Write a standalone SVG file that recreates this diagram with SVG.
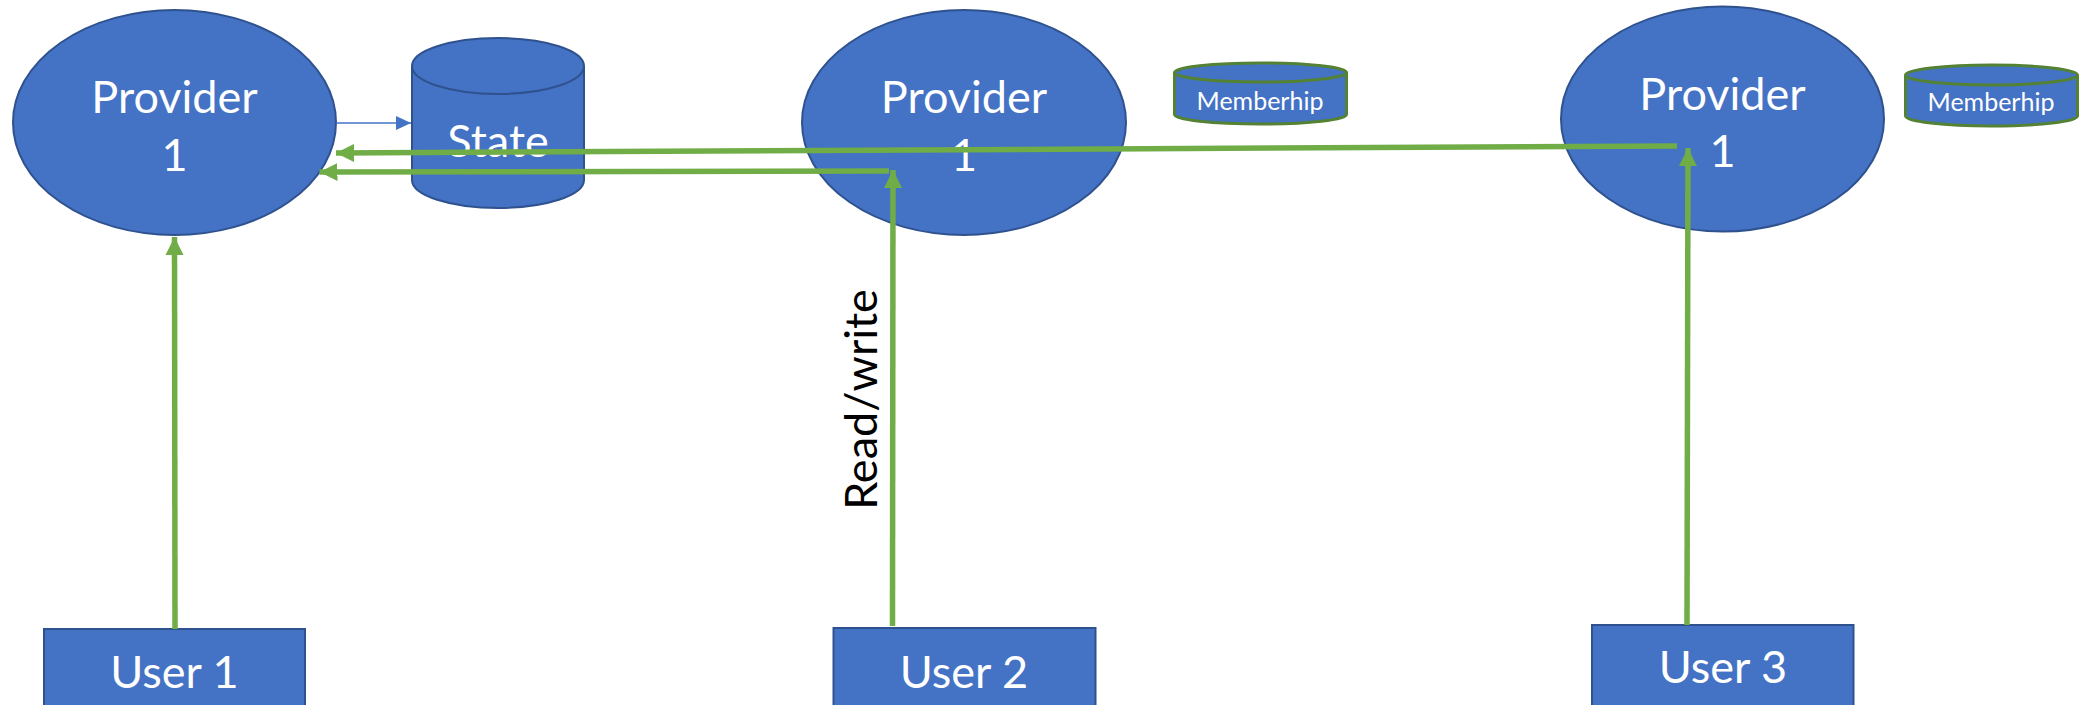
<svg xmlns="http://www.w3.org/2000/svg" width="2080" height="705" viewBox="0 0 2080 705">
<defs>
<style>
.shape{fill:#4472C4;stroke:#2F528F;stroke-width:2}
.mem{fill:#4472C4;stroke:#548235;stroke-width:3}
.lbl{font-family:Lato,"Liberation Sans",sans-serif;fill:#ffffff;text-anchor:middle;font-size:45px}
.small{font-size:25px}
.green{stroke:#70AD47;stroke-width:5.5;fill:none}
.blue{stroke:#4472C4;stroke-width:1.5;fill:none}
</style>
<marker id="ga" markerUnits="userSpaceOnUse" markerWidth="20" markerHeight="20" viewBox="0 0 20 20" refX="18" refY="10" orient="auto">
<path d="M0,1 L18,10 L0,19 Z" fill="#70AD47"/>
</marker>
<marker id="ba" markerUnits="userSpaceOnUse" markerWidth="16" markerHeight="16" viewBox="0 0 16 16" refX="15" refY="8" orient="auto">
<path d="M0,1 L15,8 L0,15 Z" fill="#4472C4"/>
</marker>
</defs>
<rect width="2080" height="705" fill="#ffffff"/>
<g id="provider1">
<ellipse class="shape" cx="174.5" cy="122.5" rx="161.5" ry="112.5"/>
<text class="lbl" x="174.5" y="113">Provider</text>
<text class="lbl" x="174.5" y="171">1</text>
</g>
<g id="state">
<path class="shape" d="M412,66 V180 A86,28 0 0 0 584,180 V66"/>
<ellipse class="shape" cx="498" cy="66" rx="86" ry="28"/>
<text class="lbl" x="498" y="157">State</text>
</g>
<g id="provider2">
<ellipse class="shape" cx="964" cy="122.5" rx="162" ry="112.5"/>
<text class="lbl" x="964" y="113">Provider</text>
<text class="lbl" x="964" y="171">1</text>
</g>
<g id="membership1">
<path class="mem" d="M1174.5,72.5 V114.5 A86,9.5 0 0 0 1346.5,114.5 V72.5"/>
<ellipse class="mem" cx="1260.5" cy="72.5" rx="86" ry="9.5"/>
<text class="lbl small" x="1260" y="110">Memberhip</text>
</g>
<g id="provider3">
<ellipse class="shape" cx="1722.5" cy="119" rx="161.5" ry="112.5"/>
<text class="lbl" x="1722.5" y="110">Provider</text>
<text class="lbl" x="1722.5" y="167">1</text>
</g>
<g id="membership2">
<path class="mem" d="M1905.5,75 V116 A86,10 0 0 0 2077.5,116 V75"/>
<ellipse class="mem" cx="1991.5" cy="75" rx="86" ry="10"/>
<text class="lbl small" x="1991" y="111">Memberhip</text>
</g>
<g id="user1">
<rect class="shape" x="44" y="629" width="261" height="90"/>
<text class="lbl" x="174.5" y="688">User 1</text>
</g>
<g id="user2">
<rect class="shape" x="833.5" y="628" width="262" height="90"/>
<text class="lbl" x="964" y="688">User 2</text>
</g>
<g id="user3">
<rect class="shape" x="1592" y="625" width="261.5" height="90"/>
<text class="lbl" x="1723" y="683">User 3</text>
</g>
<g id="connectors">
<line class="blue" x1="336" y1="123" x2="411" y2="123" marker-end="url(#ba)"/>
<line class="green" x1="1677" y1="146" x2="336" y2="153" marker-end="url(#ga)"/>
<line class="green" x1="889" y1="171" x2="319.5" y2="172" marker-end="url(#ga)"/>
<line class="green" x1="175" y1="629" x2="174.5" y2="237" marker-end="url(#ga)"/>
<line class="green" x1="892.5" y1="626" x2="893" y2="170" marker-end="url(#ga)"/>
<line class="green" x1="1687" y1="625" x2="1688" y2="148" marker-end="url(#ga)"/>
<text x="877" y="399.5" transform="rotate(-90 877 399.5)" font-family="Lato,'Liberation Sans',sans-serif" font-size="45" fill="#000000" text-anchor="middle">Read/write</text>
</g>
</svg>
